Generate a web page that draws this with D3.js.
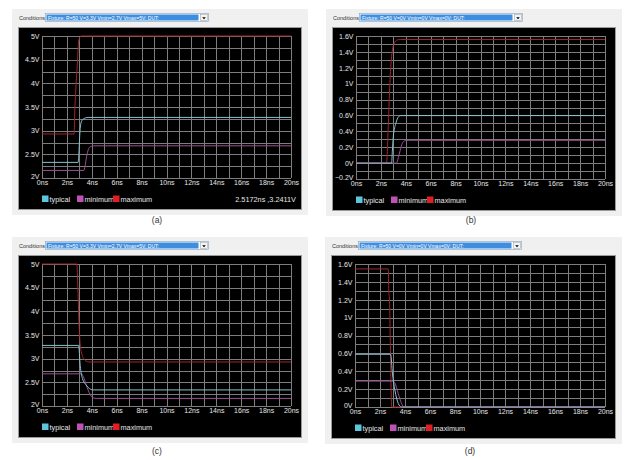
<!DOCTYPE html>
<html><head><meta charset="utf-8">
<script src="https://cdn.jsdelivr.net/npm/d3@7"></script>
<style>body{margin:0;background:#fff}svg{display:block;font-family:"Liberation Sans",Arial,sans-serif}</style>
</head><body><svg id="chart" width="626" height="460"></svg>
<script>
// ---------- data ----------
const timeTicks = [0, 2, 4, 6, 8, 10, 12, 14, 16, 18, 20];
const seriesNames = ["typical", "minimum", "maximum"];
const captions = ["(a)", "(b)", "(c)", "(d)"];
const conditions = [
  "Fixture: R=50 V=3.3V Vmin=2.7V Vmax=5V; DUT:",
  "Fixture: R=50 V=0V Vmin=0V Vmax=0V; DUT:",
  "Fixture: R=50 V=3.3V Vmin=2.7V Vmax=5V; DUT:",
  "Fixture: R=50 V=0V Vmin=0V Vmax=0V; DUT:"
];
const yTicksA = [2, 2.5, 3, 3.5, 4, 4.5, 5];
const yTicksB = [-0.2, 0, 0.2, 0.4, 0.6, 0.8, 1, 1.2, 1.4, 1.6];
const yTicksC = [2, 2.5, 3, 3.5, 4, 4.5, 5];
const yTicksD = [0, 0.2, 0.4, 0.6, 0.8, 1, 1.2, 1.4, 1.6];
const readoutA = "2.5172ns ,3.2411V";

// panel (a) rising edge, 3.3V supply
const typicalA = [[0,2.33],[2.9,2.33],[2.96,2.5],[3.02,2.85],[3.1,3.12],[3.22,3.22],[3.4,3.26],[3.7,3.28],[20,3.28]];
const minimumA = [[0,2.16],[3.36,2.16],[3.45,2.24],[3.58,2.45],[3.72,2.6],[3.88,2.66],[4.15,2.68],[20,2.68]];
const maximumA = [[0,2.93],[2.58,2.93],[2.62,3.3],[2.72,3.9],[2.85,4.45],[2.93,4.85],[3.0,4.95],[3.15,5.0],[20,5.0]];
// panel (b) rising edge, 0V supply
const typicalB = [[0,0],[2.86,0],[2.92,0.15],[3.0,0.34],[3.2,0.5],[3.42,0.585],[3.6,0.598],[20,0.598]];
const minimumB = [[0,0],[3.25,0],[3.4,0.07],[3.55,0.16],[3.72,0.25],[3.95,0.283],[4.2,0.287],[20,0.287]];
const maximumB = [[0,0],[2.45,0],[2.6,0.5],[2.72,1.0],[2.86,1.34],[3.05,1.5],[3.3,1.55],[3.6,1.556],[20,1.556]];
// panel (c) falling edge, 3.3V supply
const typicalC = [[0,3.28],[2.94,3.28],[3.07,2.85],[3.25,2.58],[3.55,2.44],[3.8,2.37],[4.1,2.34],[20,2.34]];
const minimumC = [[0,2.68],[3.15,2.68],[3.32,2.62],[3.56,2.44],[3.85,2.25],[4.05,2.18],[4.35,2.16],[20,2.16]];
const maximumC = [[0,5.0],[2.8,5.0],[2.88,4.5],[2.98,3.7],[3.15,3.15],[3.45,2.97],[3.75,2.93],[20,2.93]];
// panel (d) falling edge, 0V supply
const typicalD = [[0,0.59],[2.85,0.59],[3.0,0.37],[3.19,0.19],[3.46,0.04],[3.72,0],[20,0]];
const minimumD = [[0,0.29],[3.06,0.29],[3.19,0.27],[3.46,0.15],[3.72,0.04],[3.92,0],[20,0]];
const maximumD = [[0,1.545],[2.66,1.545],[2.7,1.3],[2.76,1.2],[2.85,0.5],[2.93,0],[20,0]];

// ---------- layout ----------
const panels = [
  {x0:42,  y0:36,  W:249, H:142, dom:[2,5],     ticks:yTicksA, grid:0.25, cap:220, data:[typicalA,minimumA,maximumA], readout:readoutA},
  {x0:356, y0:36,  W:249, H:143, dom:[-0.2,1.6],ticks:yTicksB, grid:0.1,  cap:220, data:[typicalB,minimumB,maximumB]},
  {x0:42,  y0:264, W:249, H:142, dom:[2,5],     ticks:yTicksC, grid:0.25, cap:451, data:[typicalC,minimumC,maximumC]},
  {x0:355, y0:264, W:250, H:143, dom:[0,1.6],   ticks:yTicksD, grid:0.1,  cap:451, data:[typicalD,minimumD,maximumD]}
];
const lineColors = {typical:"#86c3cf", minimum:"#9a4f93", maximum:"#a3252d"};
const legendColors = {typical:"#5ec6dc", minimum:"#c051b5", maximum:"#e21f20"};
const FS = 7;

const svg = d3.select("#chart");

panels.forEach((p, i) => {
  const g = svg.append("g");
  const x = d3.scaleLinear().domain([0, 20]).range([p.x0, p.x0 + p.W]);
  const y = d3.scaleLinear().domain(p.dom).range([p.y0 + p.H, p.y0]);

  // gray window panel
  g.append("rect").attr("x", p.x0 - 30).attr("y", p.y0 - 27)
    .attr("width", p.W + 47).attr("height", p.H + 64).attr("fill", "#f0f0f0");
  // conditions label + dropdown
  g.append("text").attr("x", p.x0 - 23).attr("y", p.y0 - 16)
    .attr("font-size", 5.5).attr("fill", "#333").text("Conditions:");
  g.append("rect").attr("x", p.x0 + 3.5).attr("y", p.y0 - 22.5)
    .attr("width", 163).attr("height", 8).attr("fill", "#fff").attr("stroke", "#7f9db9").attr("stroke-width", 0.6);
  g.append("rect").attr("x", p.x0 + 4.5).attr("y", p.y0 - 21.5)
    .attr("width", 152).attr("height", 6).attr("fill", "#3d8ee0");
  g.append("text").attr("x", p.x0 + 6).attr("y", p.y0 - 16.5)
    .attr("font-size", 5).attr("fill", "#fff").text(conditions[i]);
  g.append("rect").attr("x", p.x0 + 158.5).attr("y", p.y0 - 21.5)
    .attr("width", 7).attr("height", 6).attr("fill", "#f4f4f4").attr("stroke", "#999").attr("stroke-width", 0.5);
  const ax = p.x0 + 162, ay = p.y0 - 17.5;
  g.append("path").attr("d", `M${ax-1.8},${ay-1.2}L${ax+1.8},${ay-1.2}L${ax},${ay+0.8}Z`).attr("fill", "#000");

  // black plot window
  g.append("rect").attr("x", p.x0 - 23.5).attr("y", p.y0 - 8.5)
    .attr("width", p.W + 34).attr("height", p.H + 40).attr("fill", "#000")
    .attr("stroke", "#9a9a9a").attr("stroke-width", 1);

  // grid
  const vGrid = d3.range(0, 20.001, 1);
  g.append("g").selectAll("line").data(vGrid).join("line")
    .attr("x1", d => Math.round(x(d)) + 0.5).attr("x2", d => Math.round(x(d)) + 0.5)
    .attr("y1", p.y0).attr("y2", p.y0 + p.H)
    .attr("stroke", "#7d7d7d").attr("stroke-width", 1);
  const nH = Math.round((p.dom[1] - p.dom[0]) / p.grid);
  const hGrid = d3.range(0, nH + 1).map(k => p.dom[0] + k * p.grid);
  g.append("g").selectAll("line").data(hGrid).join("line")
    .attr("y1", d => Math.round(y(d)) + 0.5).attr("y2", d => Math.round(y(d)) + 0.5)
    .attr("x1", p.x0).attr("x2", p.x0 + p.W)
    .attr("stroke", "#7d7d7d").attr("stroke-width", 1);

  // axes
  const yAxis = d3.axisLeft(y).tickValues(p.ticks)
    .tickFormat(d => d3.format("~g")(+d.toFixed(2)) + "V").tickSize(0).tickPadding(2.5);
  const ya = g.append("g").attr("transform", `translate(${p.x0},0)`).call(yAxis);
  ya.select(".domain").remove();
  ya.selectAll("text").attr("font-size", FS).attr("fill", "#e6e6e6")
    .attr("font-family", "'Liberation Sans',Arial,sans-serif");
  // lowest y label sits slightly above the axis corner, as in the reference
  ya.selectAll(".tick").filter(d => d === p.ticks[0]).select("text").attr("dy", "0.1em");

  const xAxis = d3.axisBottom(x).tickValues(timeTicks)
    .tickFormat(d => d + "ns").tickSize(0).tickPadding(2.5);
  const xa = g.append("g").attr("transform", `translate(0,${p.y0 + p.H})`).call(xAxis);
  xa.select(".domain").remove();
  xa.selectAll("text").attr("font-size", FS).attr("fill", "#e6e6e6")
    .attr("font-family", "'Liberation Sans',Arial,sans-serif");

  // traces
  const line = d3.line().x(d => x(d[0])).y(d => y(d[1])).curve(d3.curveMonotoneX);
  [2, 1, 0].forEach(k => {
    g.append("path").datum(p.data[k]).attr("d", line)
      .attr("fill", "none").attr("stroke", lineColors[seriesNames[k]]).attr("stroke-width", 1);
  });

  // legend
  const ly = p.y0 + p.H + 21;
  const lx = [0, 35, 71];
  seriesNames.forEach((s, k) => {
    g.append("rect").attr("x", p.x0 + lx[k]).attr("y", ly - 3.5).attr("width", 6.5).attr("height", 6.5)
      .attr("fill", legendColors[s]);
    g.append("text").attr("x", p.x0 + lx[k] + 7.5).attr("y", ly + 2.6)
      .attr("font-size", FS + 0.3).attr("fill", "#e6e6e6").text(s);
  });
  if (p.readout) {
    g.append("text").attr("x", p.x0 + p.W + 5).attr("y", ly + 2.6).attr("text-anchor", "end")
      .attr("font-size", FS + 0.3).attr("fill", "#e6e6e6").text(p.readout);
  }

  // caption
  g.append("text").attr("x", p.x0 + 115).attr("y", p.cap + 3).attr("text-anchor", "middle")
    .attr("font-size", 8.5).attr("fill", "#333").text(captions[i]);
});
</script></body></html>
